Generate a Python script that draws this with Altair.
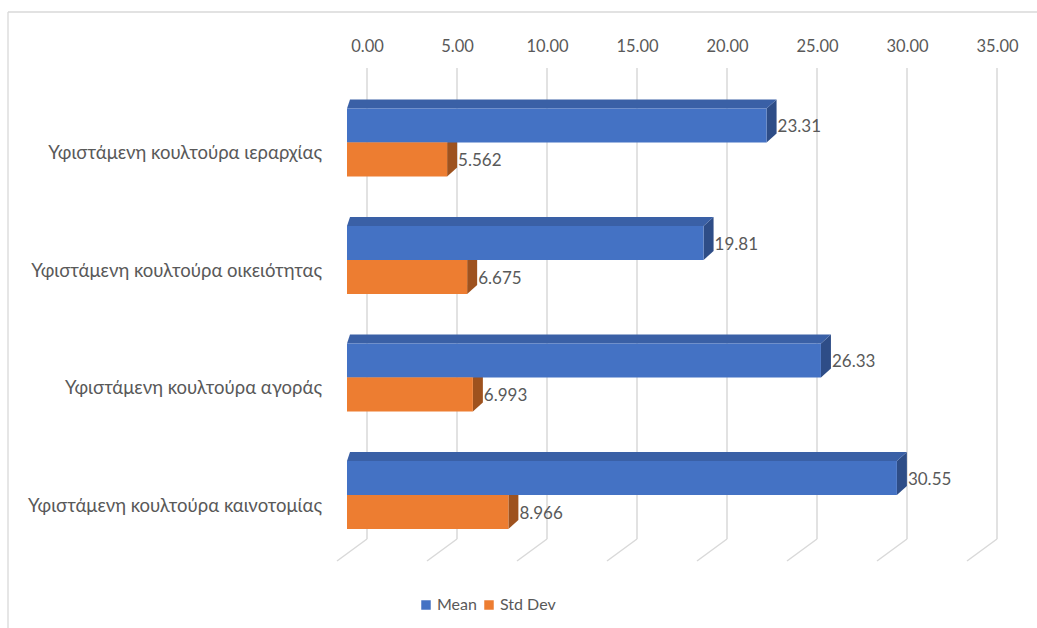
import altair as alt
import pandas as pd

# ---- data -------------------------------------------------------------
categories = [
    "Υφιστάμενη κουλτούρα ιεραρχίας",
    "Υφιστάμενη κουλτούρα οικειότητας",
    "Υφιστάμενη κουλτούρα αγοράς",
    "Υφιστάμενη κουλτούρα καινοτομίας",
]
mean_values = [23.31, 19.81, 26.33, 30.55]
std_values = [5.562, 6.675, 6.993, 8.966]
series_names = ["Mean", "Std Dev"]
tick_values = [0, 5, 10, 15, 20, 25, 30, 35]

# ---- layout / style ----------------------------------------------------
W, H = 1037, 628
X_PX, X0 = 18.0, 367.0      # px per unit, px of value 0 on the back wall
Y_PX, Y0 = 117.5, 142.5     # px per category slot, px of slot 0
FRONT_DX = -20              # bar front plane, relative to the back wall (px)
BAR = 34 / Y_PX             # bar thickness (slots)
DEPTH_Y = 9 / Y_PX          # bar depth, vertical part (slots)
SIDE_DX = 10 / X_PX         # bar depth at the bar end (units)
LEFT_DX = 3 / X_PX          # bar depth at the bar start (units)

FONT = "Lato"
TEXT = "#595959"
GRID = "#D9D9D9"
FRONT = {"Mean": "#4472C4", "Std Dev": "#ED7D31"}
TOP = {"Mean": "#3A60A6", "Std Dev": "#C8682A"}
SIDE = {"Mean": "#2E4D87", "Std Dev": "#9E521E"}

x_scale = alt.Scale(domain=[-X0 / X_PX, (W - X0) / X_PX], nice=False, zero=False)
y_scale = alt.Scale(domain=[-Y0 / Y_PX, (H - Y0) / Y_PX], nice=False, zero=False,
                    reverse=True)

x_axis = alt.Axis(orient="top", offset=-68, values=tick_values, format=".2f",
                  domain=False, ticks=False, grid=False, labelPadding=22,
                  labelBaseline="middle", labelFont=FONT, labelFontSize=16.5,
                  labelColor=TEXT, title=None)


def X(field):
    return alt.X(field, type="quantitative", scale=x_scale, axis=x_axis, title=None)


def X2(field):
    return alt.X2(field)


def Y(field):
    return alt.Y(field, type="quantitative", scale=y_scale, axis=None, title=None)


# ---- derived tables ----------------------------------------------------
front_rows, top_rows, side_rows, label_rows, cat_rows = [], [], [], [], []
for i, cat in enumerate(categories):
    cat_rows.append({"cat": cat, "slot": i + 10.5 / Y_PX})
    for s, vals in zip(series_names, [mean_values, std_values]):
        v = vals[i]
        y_top = i - BAR if s == "Mean" else i
        y_bot = y_top + BAR
        face = f"{s}-{i}"
        front_rows.append({"series": s, "x0": 0.0, "x1": v, "yt": y_top, "yb": y_bot})
        top_rows += [
            {"series": s, "face": face, "y": y_top, "xa": 0.0, "xb": v},
            {"series": s, "face": face, "y": y_top - DEPTH_Y, "xa": LEFT_DX, "xb": v + SIDE_DX},
        ]
        side_rows += [
            {"series": s, "face": face, "x": v, "ya": y_top, "yb": y_bot},
            {"series": s, "face": face, "x": v + SIDE_DX,
             "ya": y_top - DEPTH_Y, "yb": y_bot - DEPTH_Y},
        ]
        label_rows.append({"series": s, "x": v, "y": (y_top + y_bot) / 2 + 1.5 / Y_PX,
                           "label": str(v)})

front_df = pd.DataFrame(front_rows)
top_df = pd.DataFrame(top_rows)
side_df = pd.DataFrame(side_rows)
label_df = pd.DataFrame(label_rows)
cat_df = pd.DataFrame(cat_rows)
tick_df = pd.DataFrame({"tick": tick_values})

# ---- layers ------------------------------------------------------------
border_top = alt.Chart(tick_df.head(1)).mark_rule(color=GRID, strokeWidth=1.3).encode(
    x=alt.value(8), x2=alt.value(W + 5), y=alt.value(12))
border_left = alt.Chart(tick_df.head(1)).mark_rule(color=GRID, strokeWidth=1.3).encode(
    x=alt.value(8), y=alt.value(12), y2=alt.value(H + 5))

wall = alt.Chart(tick_df).mark_rule(color=GRID, strokeWidth=1.5).encode(
    x=X("tick"), y=alt.value(68), y2=alt.value(539))
floor = alt.Chart(tick_df).mark_rule(color=GRID, strokeWidth=1.5, x2Offset=-30).encode(
    x=X("tick"), x2=X2("tick"), y=alt.value(539), y2=alt.value(561))

layers = [border_top, border_left, wall, floor]

for s in ["Std Dev", "Mean"]:
    layers.append(
        alt.Chart(side_df[side_df.series == s]).mark_area(
            orient="vertical", xOffset=FRONT_DX, fill=SIDE[s], opacity=1).encode(
            x=X("x"), y=Y("ya"), y2=alt.Y2("yb"), detail="face:N"))
    layers.append(
        alt.Chart(top_df[top_df.series == s]).mark_area(
            orient="horizontal", xOffset=FRONT_DX, x2Offset=FRONT_DX,
            fill=TOP[s], opacity=1).encode(
            x=X("xa"), x2=X2("xb"), y=Y("y"), detail="face:N"))

front = alt.Chart(front_df).mark_rect(xOffset=FRONT_DX, x2Offset=FRONT_DX).encode(
    x=X("x0"), x2=X2("x1"), y=Y("yt"), y2=alt.Y2("yb"),
    color=alt.Color("series:N",
                    scale=alt.Scale(domain=series_names,
                                    range=[FRONT[n] for n in series_names]),
                    legend=alt.Legend(orient="none", legendX=418, legendY=597,
                                      direction="horizontal", title=None,
                                      symbolType="square", symbolSize=90,
                                      symbolStrokeWidth=0, labelFont=FONT,
                                      labelFontSize=16, labelColor=TEXT,
                                      labelOffset=3, columnPadding=4, padding=0)))
layers.append(front)

values = alt.Chart(label_df).mark_text(
    align="left", baseline="middle", dx=FRONT_DX + 10 + 1, font=FONT,
    fontSize=17, color=TEXT).encode(x=X("x"), y=Y("y"), text="label:N")
layers.append(values)

cat_labels = alt.Chart(cat_df).mark_text(
    align="right", baseline="middle", font=FONT, fontSize=18.5, color=TEXT).encode(
    x=alt.value(322), y=Y("slot"), text="cat:N")
layers.append(cat_labels)

chart = alt.layer(*layers).properties(
    width=W, height=H, padding=0, autosize=alt.AutoSizeParams(type="none"),
    background="white",
).configure_view(stroke=None)

chart.save("out.html", embed_options={"renderer": "svg", "actions": False})
